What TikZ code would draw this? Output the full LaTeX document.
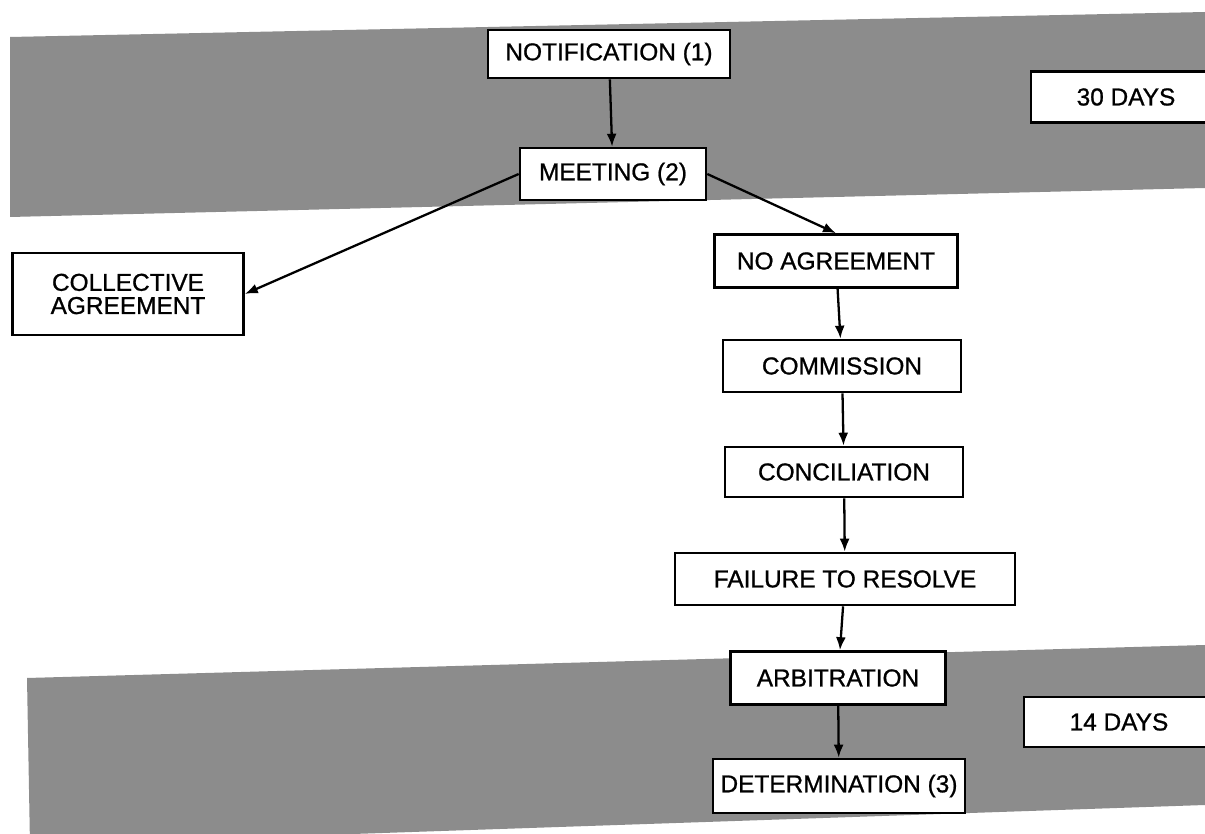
\documentclass[tikz,border=0pt]{standalone}
\usepackage{fontspec}
\setmainfont{Liberation Sans}[BoldFont=Liberation Sans, BoldFeatures={FakeBold=0.9}]
\usetikzlibrary{arrows.meta}

\begin{document}
\begin{tikzpicture}[x=0.02cm, y=-0.02cm,
    stage/.style={draw, line width=1.5pt, fill=white, inner sep=0pt, align=center,
                  font=\fontsize{13.9}{13.2}\selectfont\bfseries},
    band/.style={fill=black!45},
    flow/.style={-{Latex[length=0.26cm, width=0.2cm]}, line width=1.3pt}]
    \clip (0,0) rectangle (1205,834);
    \fill[white] (0,0) rectangle (1205,834);

    % shaded time bands
    \fill[band] (10,37) -- (1205,12) -- (1205,188) -- (10,217) -- cycle;
    \fill[band] (27,678) -- (1205,645) -- (1205,805) -- (30,845) -- cycle;

    \node[stage, minimum width=4.84cm, minimum height=0.96cm] (notif) at (609,54) {NOTIFICATION (1)};
    \node[stage, minimum width=3.8cm, minimum height=1.02cm] (days30) at (1126,97) {30 DAYS};
    \node[stage, minimum width=3.72cm, minimum height=1.04cm] (meet) at (613,174) {MEETING (2)};
    \node[stage, minimum width=4.62cm, minimum height=1.64cm] (coll) at (128,294) {COLLECTIVE\\AGREEMENT};
    \node[stage, minimum width=4.86cm, minimum height=1.06cm] (noagree) at (836,261) {NO AGREEMENT};
    \node[stage, minimum width=4.76cm, minimum height=1.04cm] (comm) at (842,366) {COMMISSION};
    \node[stage, minimum width=4.76cm, minimum height=1.0cm] (conc) at (844,472) {CONCILIATION};
    \node[stage, minimum width=6.8cm, minimum height=1.04cm] (fail) at (845,579) {FAILURE TO RESOLVE};
    \node[stage, minimum width=4.3cm, minimum height=1.06cm] (arb) at (838,678) {ARBITRATION};
    \node[stage, minimum width=3.8cm, minimum height=1.0cm] (days14) at (1119,722) {14 DAYS};
    \node[stage, minimum width=5.04cm, minimum height=1.08cm] (det) at (839,786) {DETERMINATION (3)};

    \draw[flow] (notif) -- (meet);
    \draw[flow] (meet.west) -- (coll.east);
    \draw[flow] (meet.east) -- (noagree.north);
    \draw[flow] (noagree) -- (comm);
    \draw[flow] (comm) -- (conc);
    \draw[flow] (conc) -- (fail);
    \draw[flow] (fail) -- (arb);
    \draw[flow] (arb) -- (det);

\end{tikzpicture}
\end{document}
